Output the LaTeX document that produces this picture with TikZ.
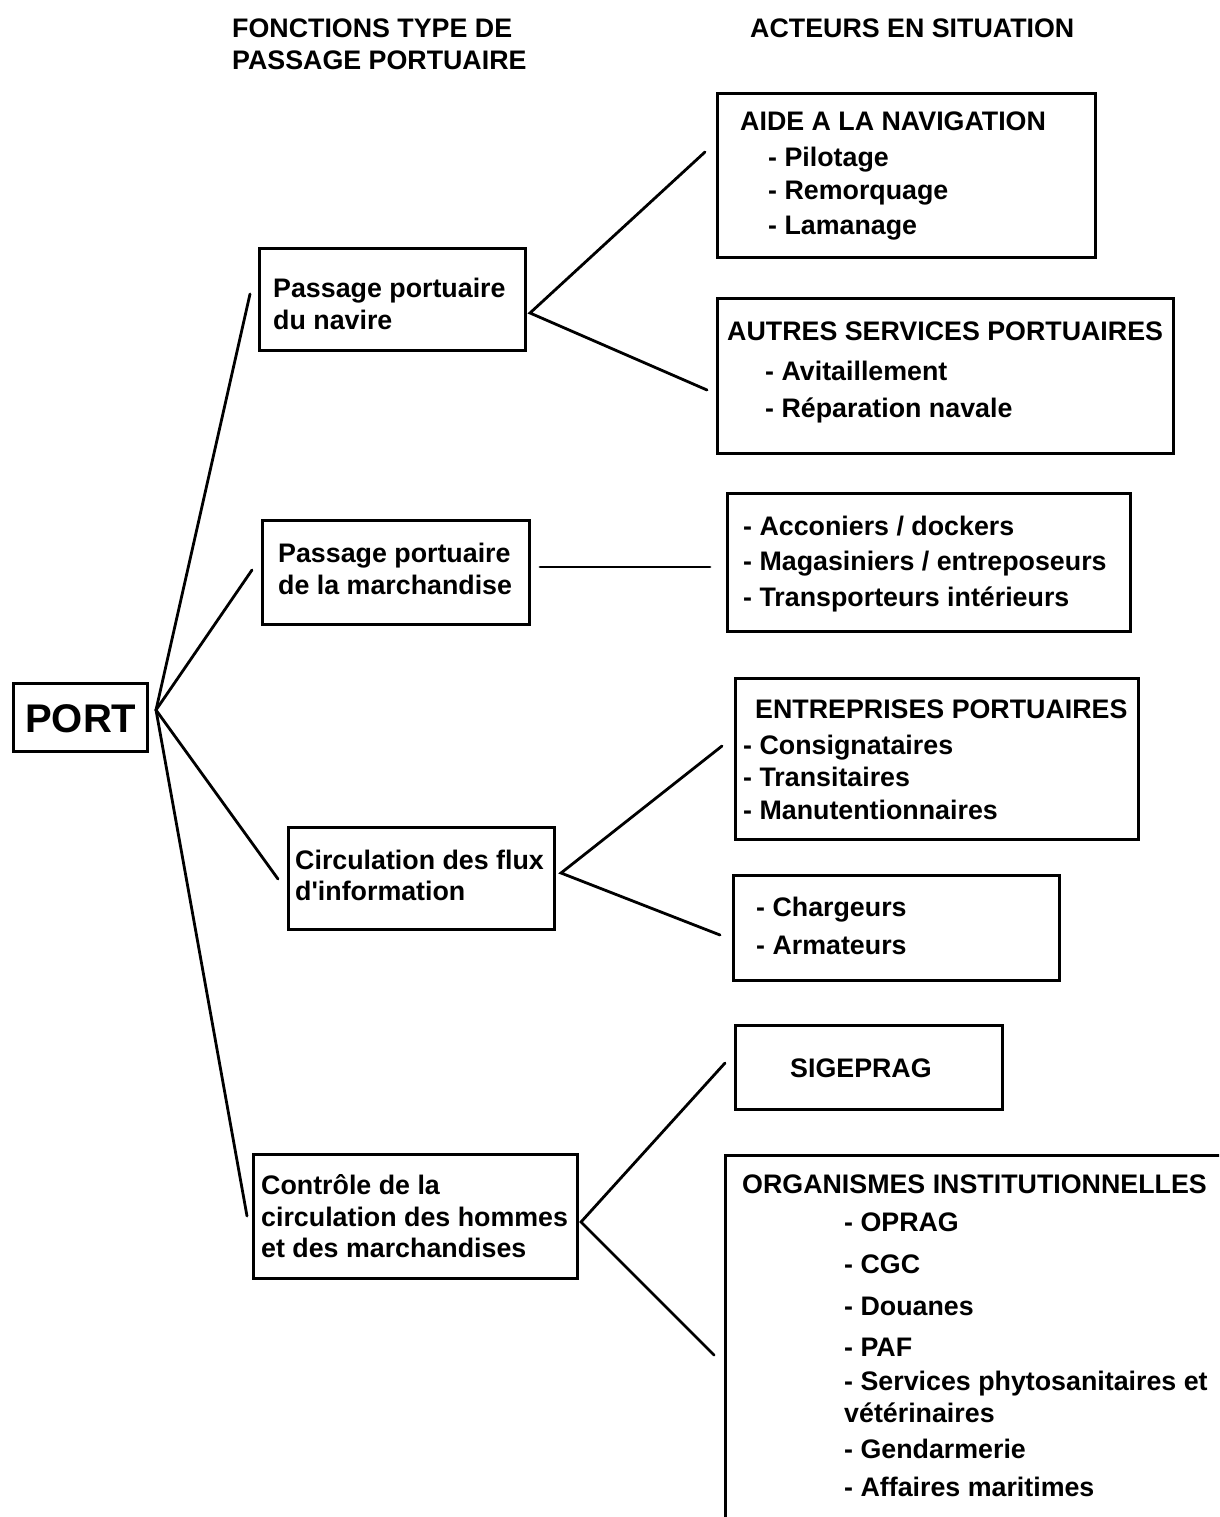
\documentclass[tikz,border=0pt]{standalone}
\usepackage{fontspec}
\setmainfont{Liberation Sans}
\begin{document}
\begin{tikzpicture}[x=1pt,y=-1pt,
  frame/.style={draw, line width=2.8pt, rectangle, inner sep=0pt, anchor=north west},
  txt/.style={anchor=base west, inner sep=0pt, font=\fontsize{26.8}{31}\selectfont\bfseries},
  link/.style={line width=2.8pt, line cap=round}]
\clip (0,0) rectangle (1219,1517);
\fill[white] (0,0) rectangle (1219,1517);

% column headings
\node[txt] (h1a) at (232,38) {FONCTIONS TYPE DE};
\node[txt] (h1b) at (232,70) {PASSAGE PORTUAIRE};
\node[txt] (h2)  at (750,38) {ACTEURS EN SITUATION};

% root
\node[frame, minimum width=134pt, minimum height=68pt] (port) at (12,682) {};
\node[txt, font=\fontsize{40}{44}\selectfont\bfseries] (portlbl) at (25,732) {PORT};

% functions
\node[frame, minimum width=266pt, minimum height=102pt] (f1) at (258,247) {};
\node[txt] at (273,297) {Passage portuaire};
\node[txt] at (273,329) {du navire};

\node[frame, minimum width=267pt, minimum height=104pt] (f2) at (261,519) {};
\node[txt] at (278,562) {Passage portuaire};
\node[txt] at (278,594) {de la marchandise};

\node[frame, minimum width=266pt, minimum height=102pt] (f3) at (287,826) {};
\node[txt] at (295,869) {Circulation des flux};
\node[txt] at (295,900) {d\textquotesingle information};

\node[frame, minimum width=324pt, minimum height=124pt] (f4) at (252,1153) {};
\node[txt] at (261,1194) {Contrôle de la};
\node[txt] at (261,1226) {circulation des hommes};
\node[txt] at (261,1257) {et des marchandises};

% actors
\node[frame, minimum width=378pt, minimum height=164pt] (a1) at (716,92) {};
\node[txt] at (740,131) {AIDE A LA NAVIGATION};
\node[txt] at (768,167) {- Pilotage};
\node[txt] at (768,200) {- Remorquage};
\node[txt] at (768,234) {- Lamanage};

\node[frame, minimum width=456pt, minimum height=155pt] (a2) at (716,297) {};
\node[txt] at (727,340) {AUTRES SERVICES PORTUAIRES};
\node[txt] at (765,380) {- Avitaillement};
\node[txt] at (765,417) {- Réparation navale};

\node[frame, minimum width=403pt, minimum height=138pt] (a3) at (726,492) {};
\node[txt] at (743,535) {- Acconiers / dockers};
\node[txt] at (743,570) {- Magasiniers / entreposeurs};
\node[txt] at (743,606) {- Transporteurs intérieurs};

\node[frame, minimum width=403pt, minimum height=161pt] (a4) at (734,677) {};
\node[txt] at (755,718) {ENTREPRISES PORTUAIRES};
\node[txt] at (743,754) {- Consignataires};
\node[txt] at (743,786) {- Transitaires};
\node[txt] at (743,819) {- Manutentionnaires};

\node[frame, minimum width=326pt, minimum height=105pt] (a5) at (732,874) {};
\node[txt] at (756,916) {- Chargeurs};
\node[txt] at (756,954) {- Armateurs};

\node[frame, minimum width=267pt, minimum height=84pt] (a6) at (734,1024) {};
\node[txt] at (790,1077) {SIGEPRAG};

\node[frame, minimum width=600pt, minimum height=500pt] (a7) at (724,1154) {};
\node[txt] at (742,1193) {ORGANISMES INSTITUTIONNELLES};
\node[txt] at (844,1231) {- OPRAG};
\node[txt] at (844,1273) {- CGC};
\node[txt] at (844,1315) {- Douanes};
\node[txt] at (844,1356) {- PAF};
\node[txt] at (844,1390) {- Services phytosanitaires et};
\node[txt] at (844,1422) {vétérinaires};
\node[txt] at (844,1458) {- Gendarmerie};
\node[txt] at (844,1496) {- Affaires maritimes};

% connector end points
\coordinate (p0) at (156,710);
\coordinate (p1) at (250,294);
\coordinate (p2) at (252,570);
\coordinate (p3) at (278,879);
\coordinate (p4) at (247,1216);

\coordinate (q1) at (530,313);
\coordinate (q1a) at (705,152);
\coordinate (q1b) at (707,390);

\coordinate (q2) at (540,567);
\coordinate (q2a) at (710,567);

\coordinate (q3) at (561,873);
\coordinate (q3a) at (722,746);
\coordinate (q3b) at (720,935);

\coordinate (q4) at (581,1222);
\coordinate (q4a) at (725,1063);
\coordinate (q4b) at (714,1355);

% connectors
\draw[link] (p1) -- (p0) -- (p4);
\draw[link] (p2) -- (p0) -- (p3);
\draw[link] (q1a) -- (q1) -- (q1b);
\draw[link] (q2) -- (q2a);
\draw[link] (q3a) -- (q3) -- (q3b);
\draw[link] (q4a) -- (q4) -- (q4b);
\end{tikzpicture}
\end{document}
